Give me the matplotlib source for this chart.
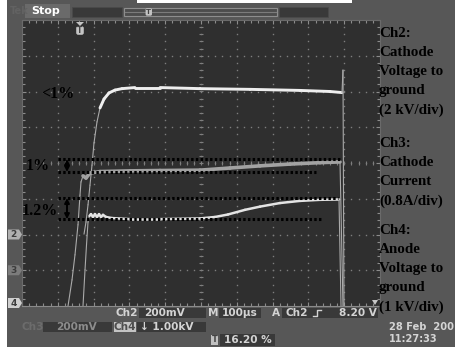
import matplotlib
matplotlib.use("Agg")
import matplotlib.pyplot as plt
import numpy as np
from matplotlib.collections import LineCollection
from matplotlib.patches import Rectangle, Polygon, FancyBboxPatch

W, H, DPI = 456, 347, 100

# Acquisition: 100 us/div over 10 divisions, 8 vertical divisions
TIME_PER_DIV = 100
N_HDIV, N_VDIV = 10, 8
TRIGGER_PERCENT = 16.20

# Channel ground markers (divisions from screen centre)
marker_labels = ["2", "3", "4"]
marker_levels = [-2.0, -3.0, -4.0]

# Ch2 - cathode voltage to ground (time in us, level in div)
ch2_time = [173.2, 178.8, 184.4, 189.9, 195.5, 201.1, 209.5, 217.9, 229.1, 243.0,
            259.8, 279.3, 315.6, 385.5, 497.2, 636.9, 776.5, 860.3, 893.9, 896.6, 899.4]
ch2_level = [-1.99, -1.65, -1.17, -0.62, -0.06, 0.56, 1.15, 1.54, 1.79, 1.96,
             2.04, 2.08, 2.11, 2.11, 2.08, 2.06, 2.03, 2.00, 1.97, 2.60, -4.0]

# Ch3 - cathode current
ch3_time = [128.5, 139.7, 148.0, 156.4, 162.0, 164.8, 170.4, 178.8, 189.9, 217.9,
            301.7, 385.5, 497.2, 581.0, 664.8, 748.6, 832.4, 888.3, 896.6]
ch3_level = [-4.0, -3.27, -2.57, -1.73, -0.90, -0.53, -0.36, -0.42, -0.28, -0.24,
             -0.22, -0.21, -0.20, -0.14, -0.08, -0.03, 0.01, 0.03, -4.0]

# Ch4 - anode voltage to ground
ch4_time = [170.4, 176.0, 180.2, 184.4, 188.5, 192.7, 198.3, 203.9, 209.5, 215.1,
            220.7, 226.3, 234.6, 251.4, 301.7, 385.5, 497.2, 539.1, 575.4, 622.9,
            664.8, 720.7, 776.5, 832.4, 885.5, 891.1]
ch4_level = [-4.0, -2.99, -2.29, -1.65, -1.48, -1.43, -1.51, -1.43, -1.51, -1.43,
             -1.51, -1.45, -1.51, -1.54, -1.57, -1.57, -1.55, -1.51, -1.44, -1.31,
             -1.22, -1.12, -1.06, -1.03, -1.02, -4.0]

# Flatness reference lines: (level in div, start us, end us)
ref_lines = [(0.11, 100.6, 891.0), (-0.25, 100.6, 821.0),
             (-0.98, 100.6, 882.7), (-1.57, 100.6, 835.0)]
ref_arrows = [(125.7, 0.11, -0.25), (125.7, -0.98, -1.57)]
ref_labels = [("<1%", 100.6, 1.93), ("1%", 43.3, -0.08), ("1.2%", 50.3, -1.34)]

panel_blocks = [
    (["Ch2:", "Cathode", "Voltage to", "ground", "(2 kV/div)"], 33),
    (["Ch3:", "Cathode", "Current", "(0.8A/div)"], 143),
    (["Ch4:", "Anode", "Voltage to", "ground", "(1 kV/div)"], 230),
]

FRAME = "#575757"
SCREEN = "#2f2f2f"
BOX = "#393939"
READ = "#d4d4d4"
GRID = "#7e7e7e"

fig = plt.figure(figsize=(W / DPI, H / DPI), dpi=DPI, facecolor=FRAME)

# ---- bezel and readout layer (pixel coordinates) ----
bg = fig.add_axes([0, 0, 1, 1], zorder=0)
bg.set_xlim(0, W)
bg.set_ylim(H, 0)
bg.axis("off")


def rect(ax, x0, y0, x1, y1, fc, ec="none", lw=0.0, z=1):
    ax.add_patch(Rectangle((x0, y0), x1 - x0, y1 - y0, facecolor=fc,
                           edgecolor=ec, linewidth=lw, zorder=z))


def readout(ax, x, y, s, color=READ, ha="left", size=7.6):
    ax.text(x, y, s, color=color, ha=ha, va="center", fontsize=size,
            fontfamily="DejaVu Sans", fontweight="bold", zorder=5)


rect(bg, 0, 0, 7, H, "white")
rect(bg, 137, 0, 352, 3, "white")

# top status bar
readout(bg, 10, 11, "Tek", color="#626262", size=7)
rect(bg, 25, 4, 70, 18, "#6a6a6a")
readout(bg, 31, 11, "Stop", color="white", size=8)
rect(bg, 72, 7, 122, 17, BOX, ec="#4a4a4a", lw=0.6)
rect(bg, 124, 8, 277, 16, "#4d4d4d", ec="#8e8e8e", lw=0.8)
bg.plot([125, 276], [12, 12], color="#7c7c7c", lw=0.8, zorder=3)
rect(bg, 279, 7, 328, 17, BOX, ec="#4a4a4a", lw=0.6)

# bottom readouts
readout(bg, 127, 313, "Ch2", ha="center")
rect(bg, 139, 308, 206, 318, BOX)
readout(bg, 144, 313, "200mV")
readout(bg, 213, 313, "M", ha="center")
rect(bg, 219, 308, 261, 318, BOX)
readout(bg, 222, 313, "100\u00b5s")
readout(bg, 276, 313, "A", ha="center")
rect(bg, 282, 308, 378, 318, BOX)
readout(bg, 286, 313, "Ch2")
bg.plot([313, 317, 317, 321], [316, 316, 310, 310], color=READ, lw=1.0, zorder=5)
readout(bg, 377, 313, "8.20 V", ha="right")

readout(bg, 33, 327, "Ch3", color="#6c6c6c", ha="center")
rect(bg, 43, 322, 112, 332, BOX)
readout(bg, 56, 327, "200mV", color="#8c8c8c")
rect(bg, 114, 322, 136, 332, "#c4c4c4")
readout(bg, 125, 327, "Ch4", color="#4e4e4e", ha="center")
rect(bg, 137, 322, 206, 332, BOX)
readout(bg, 140, 327, "\u2193 1.00kV")

rect(bg, 211, 335, 218, 345, "#c0c0c0")
readout(bg, 214.5, 340, "T", color="#444444", ha="center", size=6)
rect(bg, 220, 334, 275, 346, BOX)
readout(bg, 224, 340, "16.20 %")

readout(bg, 389, 327, "28 Feb  200", size=7.1)
readout(bg, 389, 339, "11:27:33", size=7.1)

# ---- graticule / waveform axes ----
PX0, PY0, PX1, PY1 = 22, 20, 380, 306
ax = fig.add_axes([PX0 / W, 1 - PY1 / H, (PX1 - PX0) / W, (PY1 - PY0) / H], zorder=1)
ax.set_facecolor(SCREEN)
t_max = TIME_PER_DIV * N_HDIV
ax.set_xlim(0, t_max)
ax.set_ylim(-N_VDIV / 2, N_VDIV / 2)
for sp in ax.spines.values():
    sp.set_color("#6a6a6a")
    sp.set_linewidth(0.8)
ax.spines["bottom"].set_color("#8a8a8a")
ax.set_xticks(np.arange(0, t_max + 1, TIME_PER_DIV))
ax.set_xticks(np.arange(0, t_max + 1, TIME_PER_DIV / 5), minor=True)
ax.set_yticks(np.arange(-4, 4.01, 1))
ax.set_yticks(np.arange(-4, 4.01, 0.2), minor=True)
ax.tick_params(which="both", direction="in", top=True, right=True, bottom=True, left=True,
               labelbottom=False, labelleft=False, color="#8c8c8c", width=0.8)
ax.tick_params(which="major", length=3.2)
ax.tick_params(which="minor", length=2.0)

# dotted division lines
xs_fine = np.arange(0, t_max + 1, TIME_PER_DIV / 5)
ys_fine = np.arange(-4, 4.01, 0.2)
for tx in np.arange(TIME_PER_DIV, t_max, TIME_PER_DIV):
    ax.plot(np.full_like(ys_fine, tx), ys_fine, ls="none", marker="s", ms=1.0,
            mec="none", color=GRID, zorder=1)
for ly in np.arange(-3, 4, 1):
    ax.plot(xs_fine, np.full_like(xs_fine, ly), ls="none", marker="s", ms=1.0,
            mec="none", color=GRID, zorder=1)
# centre cross with minor ticks
ax.plot(xs_fine, np.zeros_like(xs_fine), ls="none", marker="|", ms=3.5, mew=0.8,
        color=GRID, zorder=1)
ax.plot(np.full_like(ys_fine, t_max / 2), ys_fine, ls="none", marker="_", ms=3.5, mew=0.8,
        color=GRID, zorder=1)


def draw_trace(t, v, color, lw_flat, edge_color="#aaaaaa", lw_edge=0.8):
    t = np.asarray(t, float)
    v = np.asarray(v, float)
    pts = np.column_stack([t, v])
    segs = np.stack([pts[:-1], pts[1:]], axis=1)
    steep = np.abs(np.diff(v) / np.diff(t)) > 0.03
    lc = LineCollection(segs, linewidths=np.where(steep, lw_edge, lw_flat),
                        colors=[edge_color if s else color for s in steep],
                        capstyle="round", joinstyle="round", zorder=3)
    ax.add_collection(lc)


draw_trace(ch3_time, ch3_level, "#a2a2a2", 2.6)
draw_trace(ch4_time, ch4_level, "#e4e4e4", 1.8)
draw_trace(ch2_time, ch2_level, "#eeeeee", 2.1)

# flatness reference lines, arrows and labels
for lvl, t0, t1 in ref_lines:
    ax.plot([t0, t1], [lvl, lvl], color="black", lw=2.2, ls=(0, (0.8, 0.75)),
            dash_capstyle="butt", zorder=5)
for tx, y0, y1 in ref_arrows:
    ax.annotate("", xy=(tx, y0), xytext=(tx, y1),
                arrowprops=dict(arrowstyle="<|-|>", color="black", lw=1.4,
                                mutation_scale=7, shrinkA=0, shrinkB=0), zorder=6)
for s, tx, ly in ref_labels:
    ax.text(tx, ly, s, ha="center", va="center", color="black", fontsize=11.5,
            fontfamily="Liberation Serif", fontweight="bold", zorder=6)

# ---- overlay layer (markers and side legend) ----
ov = fig.add_axes([0, 0, 1, 1], zorder=2)
ov.set_xlim(0, W)
ov.set_ylim(H, 0)
ov.axis("off")
ov.patch.set_alpha(0)

fig.canvas.draw()


def to_px(tx, ly):
    dx, dy = ax.transData.transform((tx, ly))
    return dx, H - dy


# trigger position marker
trig_x, _ = to_px(TRIGGER_PERCENT / 100 * t_max, 0)
ov.add_patch(Polygon([[trig_x - 4, 22], [trig_x + 4, 22], [trig_x, 26]], closed=True,
                     facecolor="#c4c4c4", edgecolor="none", zorder=4))
ov.add_patch(FancyBboxPatch((trig_x - 3.5, 26.5), 7, 8, boxstyle="round,pad=0.3,rounding_size=2",
                            facecolor="#c4c4c4", edgecolor="none", zorder=4))
ov.text(trig_x, 30.8, "T", color="#444444", ha="center", va="center", fontsize=5.5,
        fontfamily="DejaVu Sans", fontweight="bold", zorder=5)
# trigger marker on record bar
bar_x = 124 + TRIGGER_PERCENT / 100 * (277 - 124)
ov.add_patch(FancyBboxPatch((bar_x - 3, 8.5), 6, 7, boxstyle="round,pad=0.2,rounding_size=1.5",
                            facecolor="#c4c4c4", edgecolor="none", zorder=4))
ov.text(bar_x, 12.2, "T", color="#444444", ha="center", va="center", fontsize=5,
        fontfamily="DejaVu Sans", fontweight="bold", zorder=5)

# channel ground tags
tag_colors = ["#b0b0b0", "#7c7c7c", "#cfcfcf"]
for lab, lvl, fc in zip(marker_labels, marker_levels, tag_colors):
    _, yp = to_px(0, lvl)
    yp = min(yp, PY1 - 3)
    ov.add_patch(Polygon([[8, yp - 5], [19, yp - 5], [22, yp], [19, yp + 5], [8, yp + 5]],
                         closed=True, facecolor=fc, edgecolor="none", zorder=4))
    ov.text(13.5, yp + 0.3, lab, color="#3c3c3c", ha="center", va="center", fontsize=6.5,
            fontfamily="DejaVu Sans", fontweight="bold", zorder=5)

# trigger level marker at right edge
ov.add_patch(Polygon([[372, 300], [378, 300], [375, 305]], closed=True,
                     facecolor="#c8c8c8", edgecolor="none", zorder=4))

# side legend
LINE_STEP = 19.3
for lines, y_first in panel_blocks:
    for i, s in enumerate(lines):
        ov.text(379, y_first + i * LINE_STEP, s, color="black", ha="left", va="center",
                fontsize=10.8, fontfamily="Liberation Serif", fontweight="bold", zorder=6)

fig.savefig("out.png", dpi=DPI, facecolor=FRAME)
